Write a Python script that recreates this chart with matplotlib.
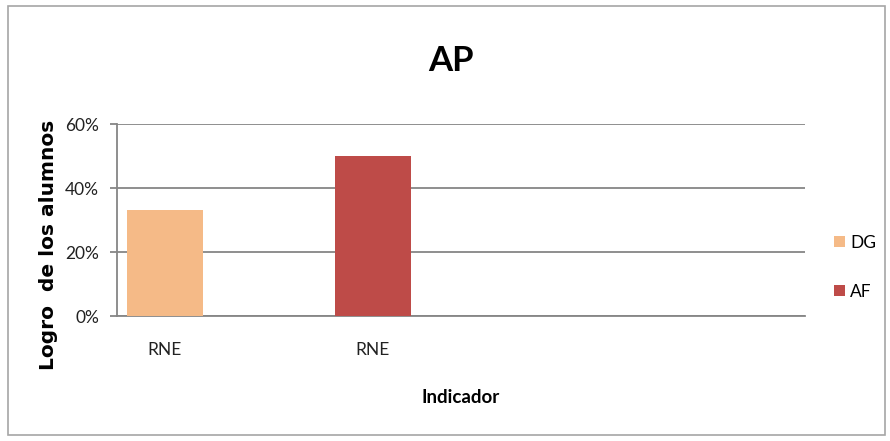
import numpy as np
import matplotlib.pyplot as plt
from matplotlib.patches import Rectangle

plt.rcParams['font.family'] = ['Lato', 'DejaVu Sans']

# data
categories = ["RNE", "RNE"]
series = ["DG", "AF"]
values = [33, 50]
colors = ["#F5BA87", "#BE4B48"]

fig = plt.figure(figsize=(8.9, 4.41), dpi=100)
ax = fig.add_axes([0.1315, 0.2834, 0.773, 0.4354])

# outer chart frame
fig.patches.append(Rectangle((0.009, 0.014), 0.985, 0.972, transform=fig.transFigure,
                             fill=False, edgecolor="#A6A6A6", linewidth=1.2))

x = np.arange(len(categories))
for i in range(len(series)):
    ax.bar(x[i], values[i], width=0.365, color=colors[i], label=series[i], zorder=3)

ax.set_ylim(0, 60)
ax.set_xlim(-0.23, 3.08)
ax.set_yticks([0, 20, 40, 60])
ax.set_yticklabels(["0%", "20%", "40%", "60%"])
ax.set_xticks(x)
ax.set_xticklabels(categories)

ax.grid(axis="y", color="#868686", linewidth=1.3, zorder=0)
for s in ["top", "right"]:
    ax.spines[s].set_visible(False)
ax.spines["left"].set_color("#868686")
ax.spines["bottom"].set_color("#868686")
ax.spines["left"].set_linewidth(1.3)
ax.spines["bottom"].set_linewidth(1.3)
ax.tick_params(axis="y", length=5, color="#868686", width=1.3, labelsize=12.5, pad=8, labelcolor="#222222")
ax.tick_params(axis="x", length=0, labelsize=12.5, pad=19, labelcolor="#222222")

ax.set_ylabel("Logro  de los alumnos", fontsize=14.5, fontweight="bold",
              family="DejaVu Sans")
ax.yaxis.set_label_coords(-0.0858, 0.37)
ax.set_xlabel("Indicador", fontsize=13.5, fontweight="bold", labelpad=22)
fig.text(0.507, 0.862, "AP", fontsize=25, fontweight="bold", ha="center", va="center")

leg = ax.legend(loc="center left", bbox_to_anchor=(1.02, 0.253), frameon=False,
                fontsize=12.5, handlelength=0.6, handleheight=0.6, handletextpad=0.3,
                labelspacing=1.9)

fig.savefig("out.png", dpi=100)
